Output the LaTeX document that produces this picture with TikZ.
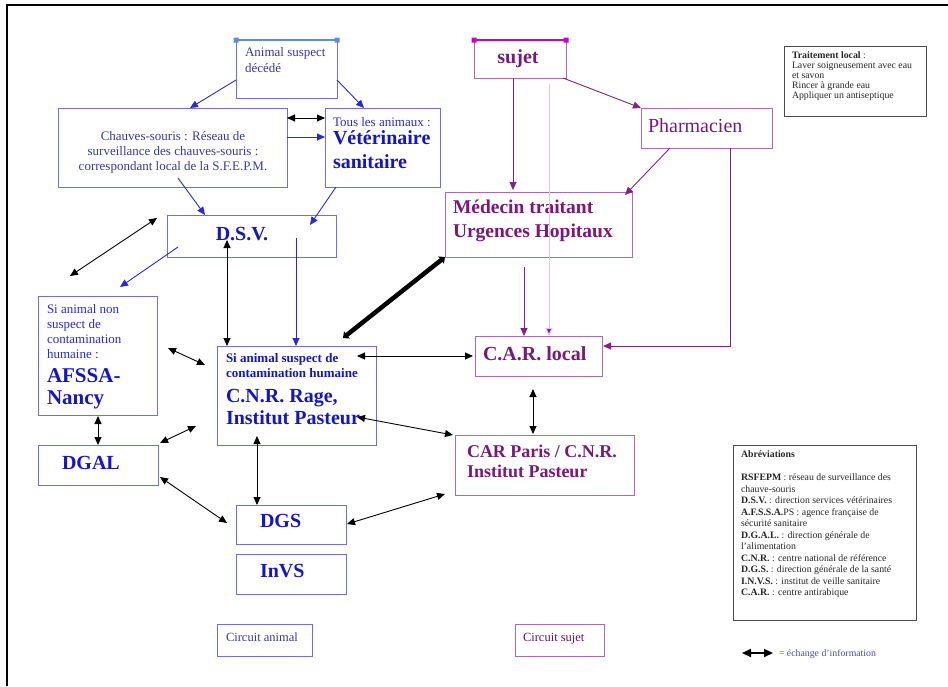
\documentclass[tikz,border=0pt]{standalone}
\usepackage{fontspec}
\setmainfont{Liberation Serif}
\usetikzlibrary{arrows.meta}
\definecolor{bbord}{RGB}{110,110,235}
\definecolor{btext}{RGB}{20,20,205}
\definecolor{bsmall}{RGB}{55,55,165}
\definecolor{barrow}{RGB}{40,40,225}
\definecolor{pbord}{RGB}{175,105,175}
\definecolor{ptext}{RGB}{120,25,120}
\definecolor{parrow}{RGB}{130,35,130}
\definecolor{pinkl}{RGB}{222,195,228}
\definecolor{hblue}{RGB}{90,140,225}
\definecolor{hmag}{RGB}{200,0,200}
\definecolor{legblue}{RGB}{70,70,220}
\newcommand\fz[2]{\fontsize{#1}{#2}\selectfont}
\newcommand\mkbox[6]{\node[#6, anchor=north west, minimum width={(#4-#2)*1pt}, minimum height={(#5-#3)*1pt}] (#1) at (#2,#3) {};}
\tikzset{
  bbox/.style={draw=bbord, line width=1pt, inner sep=0pt, outer sep=0pt},
  pbox/.style={draw=pbord, line width=1pt, inner sep=0pt, outer sep=0pt},
  gbox/.style={draw=black!70, line width=1pt, inner sep=0pt, outer sep=0pt},
  txt/.style={inner sep=0pt, outer sep=0pt},
  tip/.tip={Triangle[length=8pt,width=7pt]},
  barr/.style={draw=barrow, line width=0.9pt, -tip},
  karr/.style={draw=black, line width=0.9pt, tip-tip},
  parr/.style={draw=parrow, line width=0.9pt, -tip},
}
\begin{document}
\begin{tikzpicture}[x=1pt, y=-1pt]
\useasboundingbox (0,0) rectangle (948,686);
\draw[line width=1.2pt] (7,686) -- (7,5) -- (948,5);

% ---------- boxes: animal circuit
\mkbox{anim}{236}{40}{337}{98}{bbox}
\mkbox{chauv}{58}{108}{287}{187}{bbox}
\mkbox{tous}{325}{108}{440}{187}{bbox}
\mkbox{dsv}{167}{215}{336}{257}{bbox}
\mkbox{afssa}{38}{296}{157}{415}{bbox}
\mkbox{cnr}{217}{346}{376}{445}{bbox}
\mkbox{dgal}{38}{445}{158}{485}{bbox}
\mkbox{dgs}{236}{505}{346}{544}{bbox}
\mkbox{invs}{236}{554}{346}{594}{bbox}
\mkbox{circa}{217}{624}{312}{656}{bbox}
% ---------- boxes: subject circuit
\mkbox{sujet}{474}{40}{566}{78}{pbox}
\mkbox{pharm}{641}{108}{772}{148}{pbox}
\mkbox{med}{445}{192}{632}{257}{pbox}
\mkbox{carl}{475}{336}{602}{376}{pbox}
\mkbox{carp}{455}{435}{634}{495}{pbox}
\mkbox{circs}{515}{624}{604}{656}{pbox}
% ---------- info boxes
\mkbox{trait}{784}{46}{926}{116}{gbox}
\mkbox{abbr}{733}{445}{916}{620}{gbox}

% selection handles
\draw[hblue, line width=1.2pt] (anim.north west) -- (anim.north east);
\fill[hblue] (233.5,37.5) rectangle ++(5,5) (334.5,37.5) rectangle ++(5,5);
\draw[hmag, line width=1.2pt] (sujet.north west) -- (sujet.north east);
\fill[hmag] (471.5,37.5) rectangle ++(5,5) (563.5,37.5) rectangle ++(5,5);

% ---------- texts
\node[txt, anchor=north west, align=left, text=bsmall, font=\fz{13}{16}] (tanim) at (245,47) {Animal suspect\\décédé};
\node[txt, align=center, text=bsmall, font=\fz{13}{15}] (tchauv) at (173,152) {Chauves-souris : Réseau de\\surveillance des chauves-souris :\\correspondant local de la S.F.E.P.M.};
\node[txt, anchor=base west, text=barrow, font=\fz{13}{15}] (ttous) at (333,126) {Tous les animaux :};
\node[txt, anchor=north west, align=left, text=btext, font=\fz{20}{24}\bfseries] (tvet) at (333,131) {Vétérinaire\\sanitaire};
\node[txt, anchor=base, text=btext, font=\fz{20}{24}\bfseries] (tdsv) at (242,240) {D.S.V.};
\node[txt, anchor=north west, align=left, text=barrow, font=\fz{13}{15}] (tafs1) at (47,304) {Si animal non\\suspect de\\contamination\\humaine :};
\node[txt, anchor=north west, align=left, text=btext, font=\fz{21}{22}\bfseries] (tafs2) at (47,369) {AFSSA-\\Nancy};
\node[txt, anchor=north west, align=left, text=btext, font=\fz{13}{15}\bfseries] (tcnr1) at (226,353) {Si animal suspect de\\contamination humaine};
\node[txt, anchor=north west, align=left, text=btext, font=\fz{20}{22}\bfseries] (tcnr2) at (226,389) {C.N.R. Rage,\\Institut Pasteur};
\node[txt, anchor=base west, text=btext, font=\fz{20}{24}\bfseries] (tdgal) at (62,469) {DGAL};
\node[txt, anchor=base west, text=btext, font=\fz{20}{24}\bfseries] (tdgs) at (260,527) {DGS};
\node[txt, anchor=base west, text=btext, font=\fz{20}{24}\bfseries] (tinvs) at (260,577) {InVS};
\node[txt, anchor=base west, text=bsmall, font=\fz{12.5}{15}] (tcirca) at (226,641) {Circuit animal};

\node[txt, anchor=base, text=ptext, font=\fz{20}{24}\bfseries] (tsujet) at (518,63) {sujet};
\node[txt, anchor=base west, text=ptext, font=\fz{20}{24}] (tpharm) at (648,132) {Pharmacien};
\node[txt, anchor=north west, align=left, text=ptext, font=\fz{19.5}{24}\bfseries] (tmed) at (453,200) {Médecin traitant\\Urgences Hopitaux};
\node[txt, anchor=base west, text=ptext, font=\fz{20}{24}\bfseries] (tcarl) at (483,360) {C.A.R. local};
\node[txt, anchor=north west, align=left, text=ptext, font=\fz{18}{20}\bfseries] (tcarp) at (467,445) {CAR Paris / C.N.R.\\Institut Pasteur};
\node[txt, anchor=base west, text=ptext!80!black, font=\fz{12.5}{15}] (tcircs) at (523,641) {Circuit sujet};

\node[txt, anchor=north west, align=left, text=black!85, font=\fz{9.8}{10}] (ttrait) at (792,52) {\textbf{Traitement local} :\\Laver soigneusement avec eau\\et savon\\Rincer à grande eau\\Appliquer un antiseptique};
\node[txt, anchor=north west, align=left, text=black!85, font=\fz{9.8}{11.5}] (tabbr) at (741,451) {\textbf{Abréviations}\\[11.5pt]
\textbf{RSFEPM} : réseau de surveillance des\\chauve-souris\\
\textbf{D.S.V.} : direction services vétérinaires\\
\textbf{A.F.S.S.A.}PS : agence française de\\sécurité sanitaire\\
\textbf{D.G.A.L.} : direction générale de\\l’alimentation\\
\textbf{C.N.R.} : centre national de référence\\
\textbf{D.G.S.} : direction générale de la santé\\
\textbf{I.N.V.S.} : institut de veille sanitaire\\
\textbf{C.A.R.} : centre antirabique};

% legend
\coordinate (lg1) at (742,653);
\coordinate (lg2) at (773,653);
\draw[line width=1.8pt, {Triangle[length=9pt,width=8pt]}-{Triangle[length=9pt,width=8pt]}] (lg1) -- (lg2);
\node[txt, anchor=base west, text=legblue, font=\fz{9.8}{11}] (tleg) at (779,656) {= échange d’information};

% ---------- connector end points
\coordinate (b1a) at (236,80);  \coordinate (b1b) at (190,108);
\coordinate (b2a) at (337,80);  \coordinate (b2b) at (364,108);
\coordinate (b3a) at (287,137); \coordinate (b3b) at (325,137);
\coordinate (b4a) at (178,178); \coordinate (b4b) at (205,215);
\coordinate (b5a) at (336,187); \coordinate (b5b) at (310,225);
\coordinate (b6a) at (178,247); \coordinate (b6b) at (120,287);
\coordinate (b7a) at (296,238); \coordinate (b7b) at (296,346);

\draw[barr] (b1a) -- (b1b);
\draw[barr] (b2a) -- (b2b);
\draw[barr] (b3a) -- (b3b);
\draw[barr] (b4a) -- (b4b);
\draw[barr] (b5a) -- (b5b);
\draw[barr] (b6a) -- (b6b);
\draw[barr] (b7a) -- (b7b);

\coordinate (k1a) at (287,118);  \coordinate (k1b) at (325,118);
\coordinate (k2a) at (227,240);  \coordinate (k2b) at (227,346);
\coordinate (k3a) at (70,276);   \coordinate (k3b) at (157,218);
\coordinate (k4a) at (168,348);  \coordinate (k4b) at (205,365);
\coordinate (k5a) at (98,416);   \coordinate (k5b) at (98,445);
\coordinate (k6a) at (160,443);  \coordinate (k6b) at (196,426);
\coordinate (k7a) at (160,477);  \coordinate (k7b) at (227,523);
\coordinate (k8a) at (257,436);  \coordinate (k8b) at (257,505);
\coordinate (k9a) at (347,524);  \coordinate (k9b) at (445,494);
\coordinate (k10a) at (357,356); \coordinate (k10b) at (473,356);
\coordinate (k11a) at (357,417); \coordinate (k11b) at (453,435);
\coordinate (k12a) at (533,389); \coordinate (k12b) at (533,434);

\draw[karr] (k1a) -- (k1b);
\draw[karr] (k2a) -- (k2b);
\draw[karr] (k3a) -- (k3b);
\draw[karr] (k4a) -- (k4b);
\draw[karr] (k5a) -- (k5b);
\draw[karr] (k6a) -- (k6b);
\draw[karr] (k7a) -- (k7b);
\draw[karr] (k8a) -- (k8b);
\draw[karr] (k9a) -- (k9b);
\draw[karr] (k10a) -- (k10b);
\draw[karr] (k11a) -- (k11b);
\draw[karr] (k12a) -- (k12b);

\coordinate (tha) at (445,257); \coordinate (thb) at (343,338);
\draw[line width=4.5pt, {Triangle[length=5pt,width=9pt]}-{Triangle[length=5pt,width=9pt]}] (tha) -- (thb);

\coordinate (p1a) at (513,78);  \coordinate (p1b) at (513,190);
\coordinate (p2a) at (563,78);  \coordinate (p2b) at (641,108);
\coordinate (p3a) at (670,148); \coordinate (p3b) at (625,195);
\coordinate (p4a) at (730,148); \coordinate (p4b) at (603,346);
\coordinate (p5a) at (524,267); \coordinate (p5b) at (524,336);
\coordinate (pka) at (549,84);  \coordinate (pkb) at (549,336);

\draw[parr] (p1a) -- (p1b);
\draw[parr] (p2a) -- (p2b);
\draw[parr] (p3a) -- (p3b);
\draw[parr] (p4a) |- (p4b);
\draw[parr] (p5a) -- (p5b);
\draw[draw=pinkl, line width=0.9pt, -{Triangle[length=8pt,width=7pt,fill=parrow]}] (pka) -- (pkb);
\end{tikzpicture}
\end{document}
